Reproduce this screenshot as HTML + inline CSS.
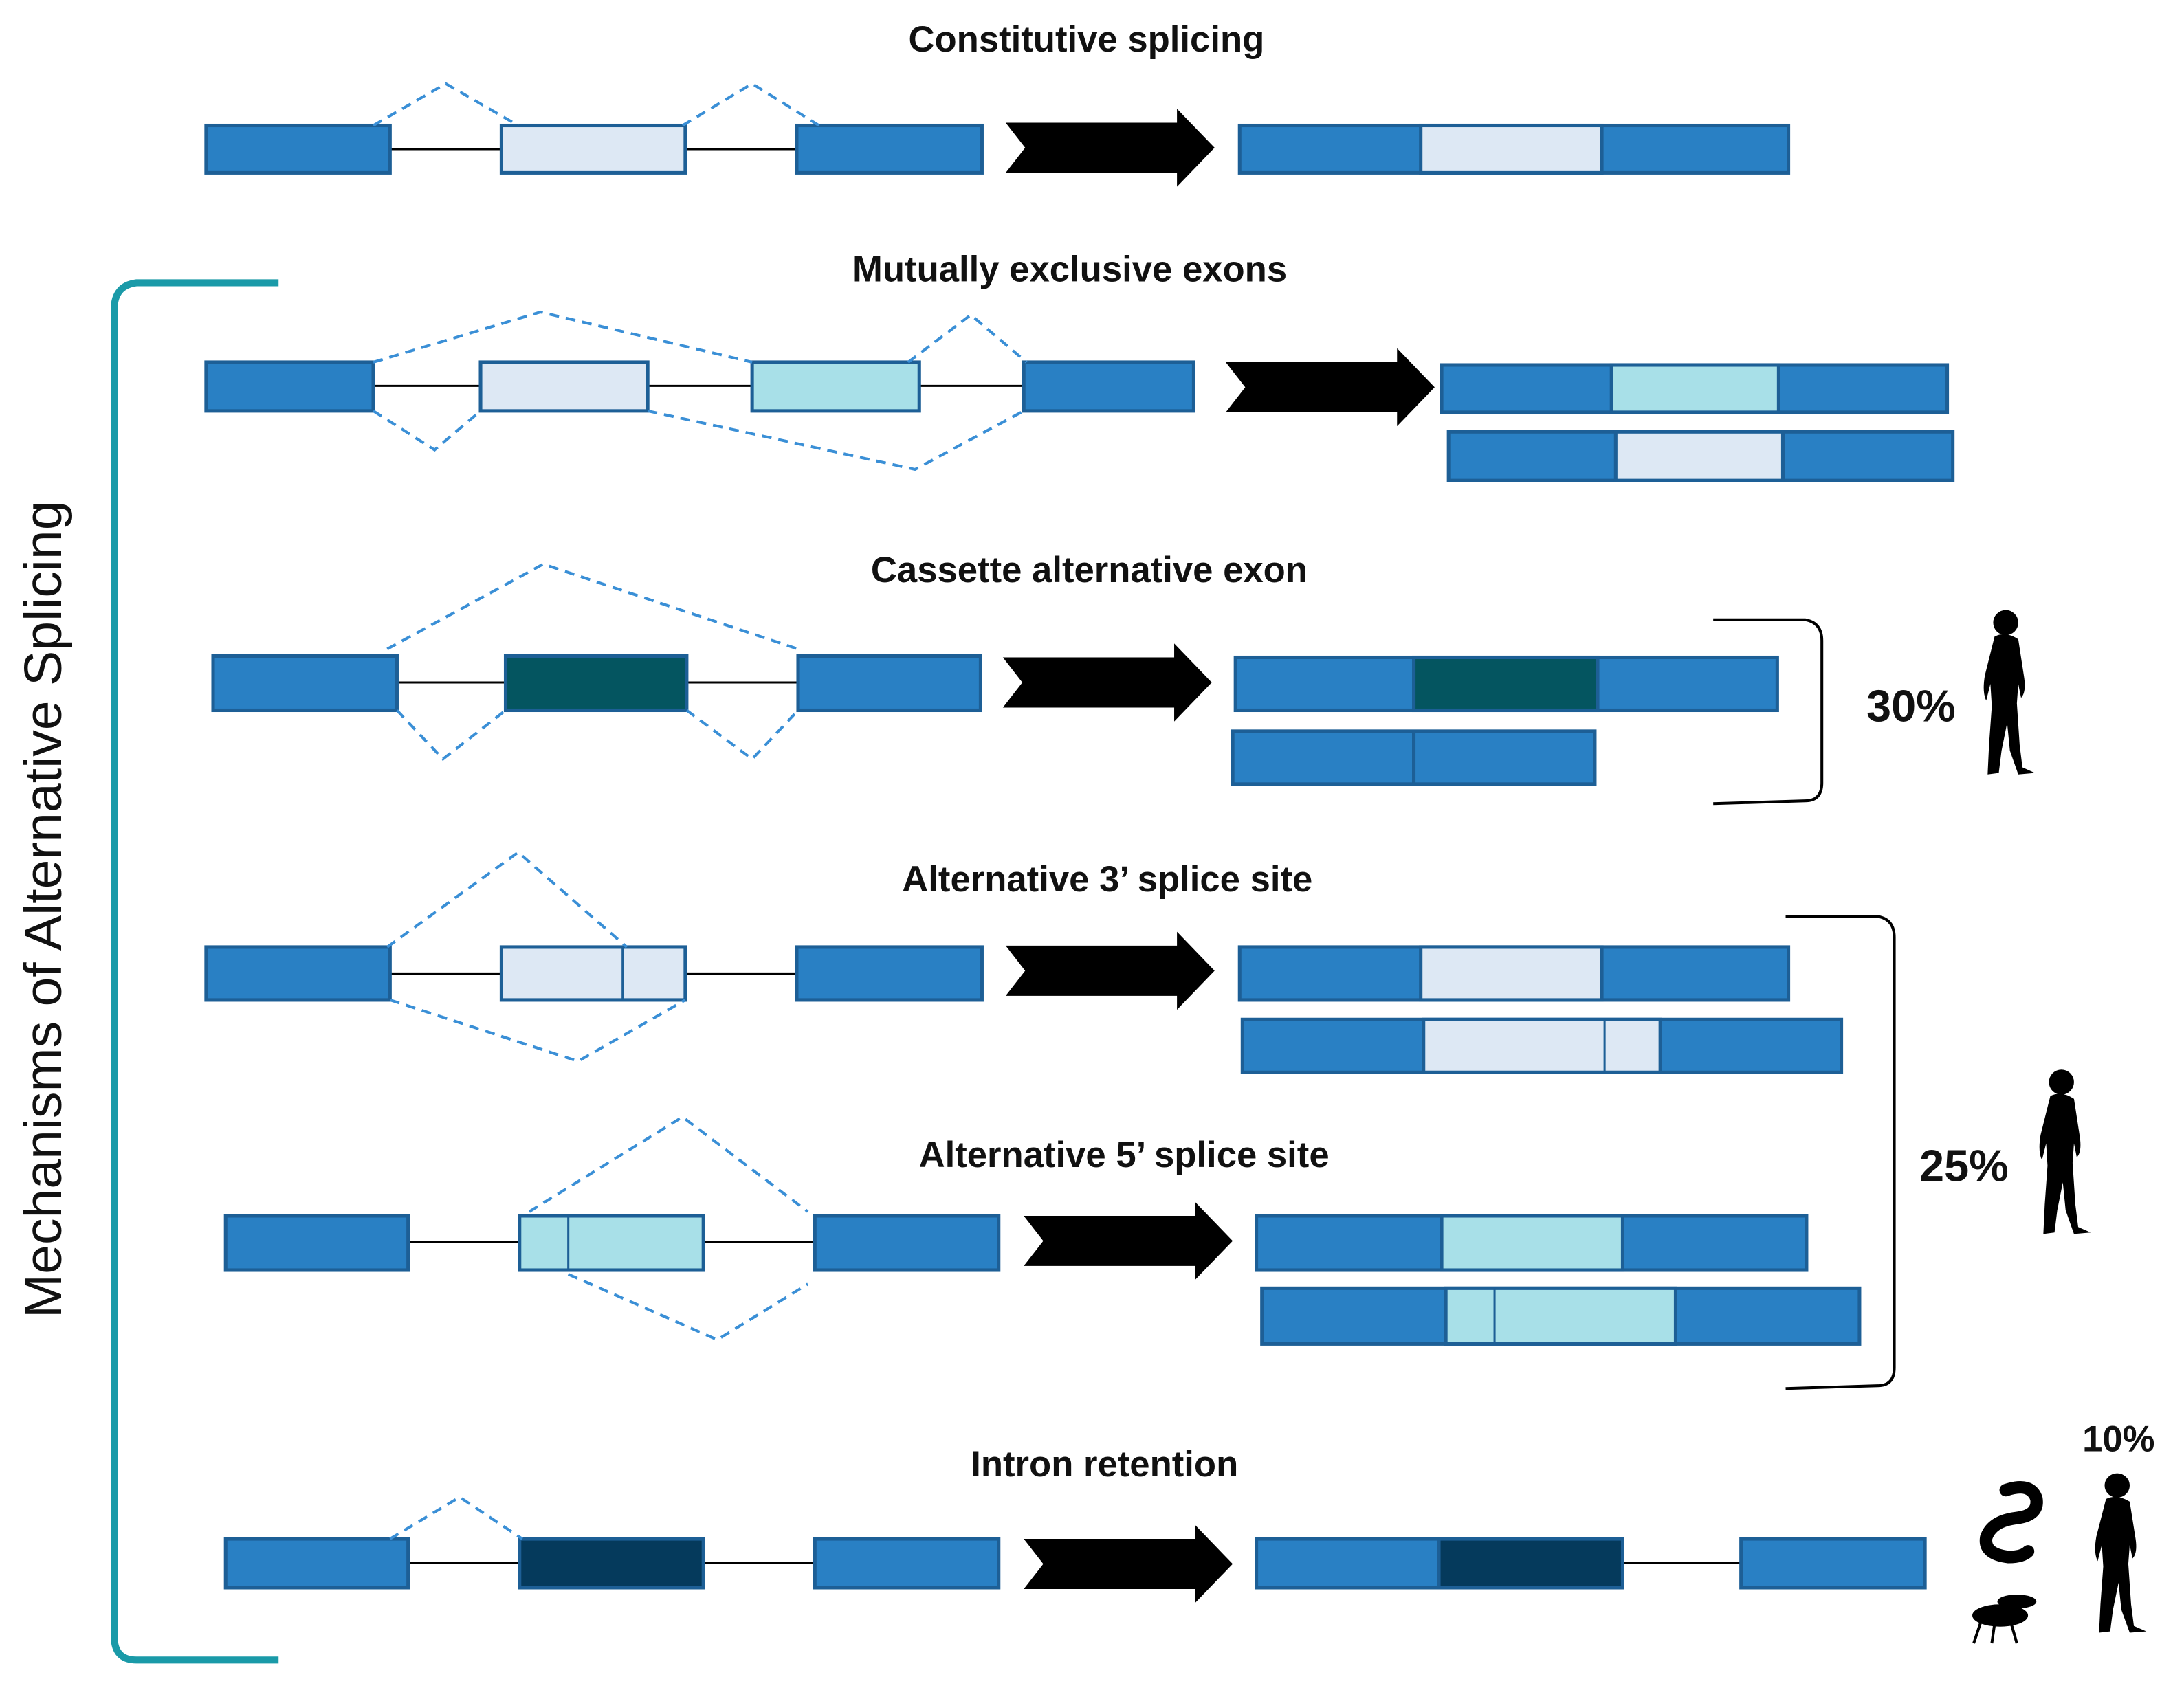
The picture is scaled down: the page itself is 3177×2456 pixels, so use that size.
<!DOCTYPE html>
<html><head><meta charset="utf-8"><style>
html,body{margin:0;padding:0;background:#fff}
svg{display:block}
text{font-family:"Liberation Sans",sans-serif;font-weight:bold;fill:#111}
</style></head><body>
<svg width="3177" height="2456" viewBox="0 0 1568 1212" xmlns="http://www.w3.org/2000/svg">
<defs>
<g id="human">
<circle cx="25" cy="12" r="9" fill="#000"/>
<path d="M17,22 Q25,18 34,24 L38,50 Q40,62 36,66 L34,56 L33,70 L35,100 L37,116 L46,120 L34,121 L28,104 L26,84 L22,104 L20,120 L12,121 L13,100 L15,72 L14,56 L11,68 Q8,62 10,50 Z" fill="#000"/>
</g>
<g id="arrow"><polygon points="0,6 123,6 123,-4 150,24 123,52 123,42 0,42 14,24" fill="#000"/></g>
</defs>
<g stroke="#1d5f96" stroke-width="2.5">
<line x1="280" y1="107" x2="360" y2="107" stroke="#000" stroke-width="1.5"/>
<line x1="492" y1="107" x2="572" y2="107" stroke="#000" stroke-width="1.5"/>
<rect x="148" y="90" width="132" height="34" fill="#2980c4"/>
<rect x="360" y="90" width="132" height="34" fill="#dde8f4"/>
<rect x="572" y="90" width="133" height="34" fill="#2980c4"/>
<rect x="890" y="90" width="394" height="34" fill="#2980c4"/>
<rect x="1020" y="90" width="130" height="34" fill="#dde8f4"/>
<line x1="268" y1="277" x2="735" y2="277" stroke="#000" stroke-width="1.5"/>
<rect x="148" y="260" width="120" height="35" fill="#2980c4"/>
<rect x="345" y="260" width="120" height="35" fill="#dde8f4"/>
<rect x="540" y="260" width="120" height="35" fill="#a8e0e8"/>
<rect x="735" y="260" width="122" height="35" fill="#2980c4"/>
<rect x="1035" y="262" width="363" height="34" fill="#2980c4"/>
<rect x="1157" y="262" width="120" height="34" fill="#a8e0e8"/>
<rect x="1040" y="310" width="362" height="35" fill="#2980c4"/>
<rect x="1160" y="310" width="120" height="35" fill="#dde8f4"/>
<line x1="285" y1="490" x2="573" y2="490" stroke="#000" stroke-width="1.5"/>
<rect x="153" y="471" width="132" height="39" fill="#2980c4"/>
<rect x="363" y="471" width="130" height="39" fill="#045560"/>
<rect x="573" y="471" width="131" height="39" fill="#2980c4"/>
<rect x="887" y="472" width="389" height="38" fill="#2980c4"/>
<rect x="1015" y="472" width="132" height="38" fill="#045560"/>
<rect x="885" y="525" width="260" height="38" fill="#2980c4"/>
<line x1="1015" y1="525" x2="1015" y2="563"/>
<line x1="280" y1="699" x2="572" y2="699" stroke="#000" stroke-width="1.5"/>
<rect x="148" y="680" width="132" height="38" fill="#2980c4"/>
<rect x="360" y="680" width="132" height="38" fill="#dde8f4"/>
<line x1="447" y1="680" x2="447" y2="718" stroke-width="1.5"/>
<rect x="572" y="680" width="133" height="38" fill="#2980c4"/>
<rect x="890" y="680" width="394" height="38" fill="#2980c4"/>
<rect x="1020" y="680" width="130" height="38" fill="#dde8f4"/>
<rect x="892" y="732" width="430" height="38" fill="#2980c4"/>
<rect x="1022" y="732" width="170" height="38" fill="#dde8f4"/>
<line x1="1152" y1="732" x2="1152" y2="770" stroke-width="1.5"/>
<line x1="293" y1="892" x2="585" y2="892" stroke="#000" stroke-width="1.5"/>
<rect x="162" y="873" width="131" height="39" fill="#2980c4"/>
<rect x="373" y="873" width="132" height="39" fill="#a8e0e8"/>
<line x1="408" y1="873" x2="408" y2="912" stroke-width="1.5"/>
<rect x="585" y="873" width="132" height="39" fill="#2980c4"/>
<rect x="902" y="873" width="395" height="39" fill="#2980c4"/>
<rect x="1035" y="873" width="130" height="39" fill="#a8e0e8"/>
<rect x="906" y="925" width="429" height="40" fill="#2980c4"/>
<rect x="1038" y="925" width="165" height="40" fill="#a8e0e8"/>
<line x1="1073" y1="925" x2="1073" y2="965" stroke-width="1.5"/>
<line x1="293" y1="1122" x2="585" y2="1122" stroke="#000" stroke-width="1.5"/>
<rect x="162" y="1105" width="131" height="35" fill="#2980c4"/>
<rect x="373" y="1105" width="132" height="35" fill="#053a5c"/>
<rect x="585" y="1105" width="132" height="35" fill="#2980c4"/>
<line x1="1165" y1="1122" x2="1250" y2="1122" stroke="#000" stroke-width="1.5"/>
<rect x="902" y="1105" width="263" height="35" fill="#2980c4"/>
<rect x="1033" y="1105" width="132" height="35" fill="#053a5c"/>
<rect x="1250" y="1105" width="132" height="35" fill="#2980c4"/>
</g>
<g fill="none" stroke="#3a8fd6" stroke-width="2" stroke-dasharray="7,5">
<polyline points="268,90 320,60 372,90"/>
<polyline points="490,90 540,60 588,90"/>
<polyline points="268,260 388,224 540,260"/>
<polyline points="652,260 697,226 737,260"/>
<polyline points="268,295 312,323 345,295"/>
<polyline points="465,295 657,337 735,295"/>
<polyline points="278,466 390,405 573,466"/>
<polyline points="285,510 318,545 363,510"/>
<polyline points="493,510 540,545 573,510"/>
<polyline points="278,680 372,612 450,680"/>
<polyline points="280,718 415,762 492,718"/>
<polyline points="380,870 490,802 580,870"/>
<polyline points="408,915 515,962 580,922"/>
<polyline points="280,1105 330,1075 375,1105"/>
</g>
<use href="#arrow" x="722" y="82"/>
<use href="#arrow" x="880" y="254"/>
<use href="#arrow" x="720" y="466"/>
<use href="#arrow" x="722" y="673"/>
<use href="#arrow" x="735" y="867"/>
<use href="#arrow" x="735" y="1099"/>
<g fill="none" stroke="#000" stroke-width="2">
<path d="M1230,445 L1296,445 Q1308,447 1308,460 L1308,562 Q1308,575 1296,575 L1230,577"/>
<path d="M1282,658 L1348,658 Q1360,660 1360,673 L1360,982 Q1360,995 1348,995 L1282,997"/>
</g>
<path d="M200,203 L98,203 Q82,205 82,222 L82,1175 Q82,1192 98,1192 L200,1192" fill="none" stroke="#1a9aa8" stroke-width="5"/>
<g font-size="26" text-anchor="middle">
<text x="780" y="37">Constitutive splicing</text>
<text x="768" y="202">Mutually exclusive exons</text>
<text x="782" y="418">Cassette alternative exon</text>
<text x="795" y="640">Alternative 3’ splice site</text>
<text x="807" y="838">Alternative 5’ splice site</text>
<text x="793" y="1060">Intron retention</text>
</g>
<text x="1340" y="518" font-size="32">30%</text>
<text x="1378" y="848" font-size="32">25%</text>
<text x="1495" y="1042" font-size="26">10%</text>
<text transform="translate(44,653) rotate(-90)" text-anchor="middle" font-size="38" style="font-weight:normal">Mechanisms of Alternative Splicing</text>
<use href="#human" x="1415" y="435"/>
<use href="#human" x="1455" y="765"/>
<use href="#human" transform="translate(1495,1055) scale(1,0.97)"/>
<path d="M1440,1070 q18,-6 22,6 q2,12 -14,14 q-18,2 -22,14 q-2,12 16,14 q10,0 14,-4" fill="none" stroke="#000" stroke-width="9" stroke-linecap="round"/>
<g fill="#000">
<ellipse cx="1436" cy="1160" rx="20" ry="8"/>
<ellipse cx="1448" cy="1150" rx="14" ry="5"/>
<path d="M1422,1165 l-5,15 M1432,1166 l-2,14 M1444,1166 l4,14" stroke="#000" stroke-width="2"/>
</g>
</svg>
</body></html>
